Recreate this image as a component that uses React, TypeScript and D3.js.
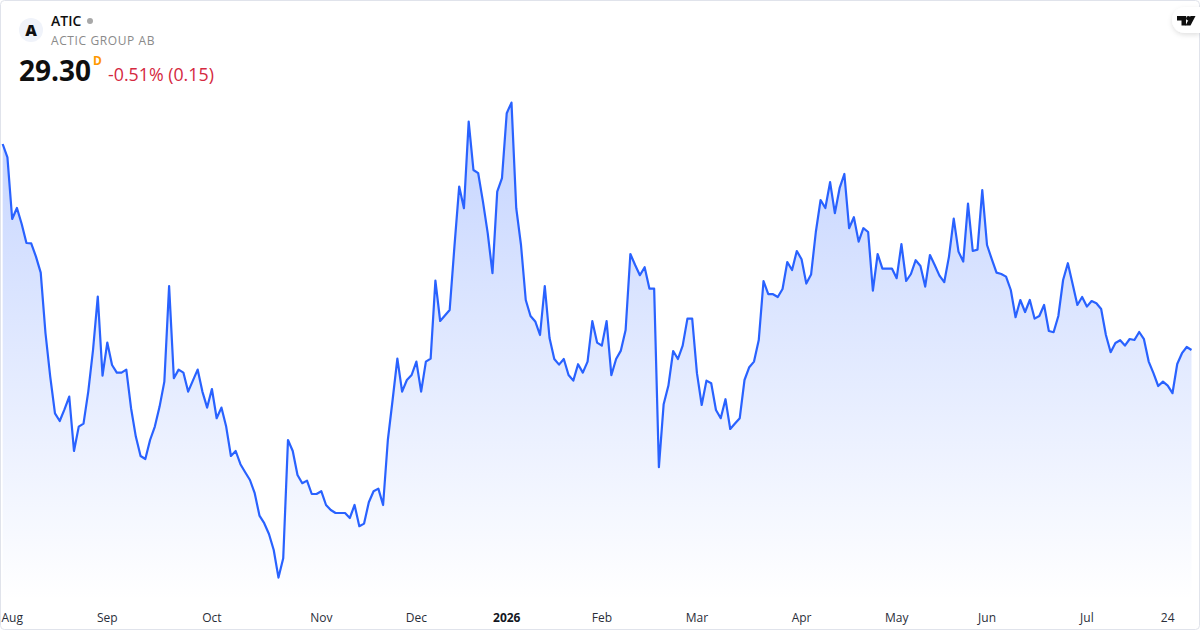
/**
 * ATIC - area chart of the closing price, one year of daily sessions
 */

import { useEffect, useRef } from "react";
import * as d3 from "d3";

// Closing prices, one per session
const closes = [
  39.6, 38.93, 35.85, 36.4, 35.6, 34.65, 34.63, 33.97, 33.17, 30.15,
  27.97, 26.13, 25.75, 26.33, 26.97, 24.25, 25.47, 25.62, 27.22, 29.3,
  31.97, 28.02, 29.67, 28.55, 28.17, 28.17, 28.32, 26.39, 24.97, 24.0,
  23.85, 24.8, 25.47, 26.47, 27.72, 32.5, 27.89, 28.32, 28.17, 27.22,
  27.77, 28.32, 27.22, 26.42, 27.35, 25.89, 26.42, 25.47, 24.0, 24.25,
  23.59, 23.19, 22.8, 22.14, 21.02, 20.64, 20.1, 19.3, 17.92, 18.89,
  24.8, 24.25, 23.05, 22.64, 22.77, 22.1, 22.1, 22.24, 21.55, 21.3,
  21.15, 21.15, 21.15, 20.9, 21.55, 20.49, 20.62, 21.69, 22.24, 22.37,
  21.55, 24.8, 26.8, 28.87, 27.22, 27.8, 28.05, 28.72, 27.22, 28.72,
  28.87, 32.77, 30.75, 31.02, 31.3, 34.47, 37.47, 36.39, 40.72, 38.3,
  38.14, 36.72, 35.14, 33.14, 37.22, 37.89, 41.14, 41.67, 36.39, 34.55,
  31.8, 31.0, 30.73, 30.05, 32.5, 29.9, 28.85, 28.57, 28.85, 28.05,
  27.77, 28.59, 28.17, 28.72, 30.74, 29.67, 29.52, 30.74, 28.04, 28.85,
  29.27, 30.3, 34.1, 33.55, 33.04, 33.44, 32.37, 32.37, 23.44, 26.59,
  27.52, 29.25, 28.85, 29.52, 30.87, 30.87, 28.14, 26.55, 27.77, 27.64,
  26.3, 25.89, 26.84, 25.35, 25.62, 25.89, 27.8, 28.44, 28.72, 29.8,
  32.75, 32.09, 32.09, 31.95, 32.35, 33.7, 33.3, 34.25, 33.84, 32.62,
  33.07, 35.2, 36.8, 36.4, 37.69, 36.14, 37.39, 38.1, 35.39, 35.94,
  34.72, 35.39, 35.2, 32.27, 34.1, 33.37, 33.37, 33.37, 32.89, 34.59,
  32.75, 33.1, 33.79, 33.5, 32.47, 34.05, 33.55, 33.02, 32.69, 33.97,
  35.87, 34.22, 33.72, 36.62, 34.25, 34.32, 37.29, 34.55, 33.84, 33.17,
  33.1, 32.97, 32.3, 30.94, 31.8, 31.2, 31.8, 30.87, 31.0, 31.55,
  30.25, 30.19, 31.0, 32.8, 33.64, 32.6, 31.55, 31.95, 31.47, 31.75,
  31.64, 31.35, 30.05, 29.19, 29.65, 29.79, 29.52, 29.85, 29.8, 30.2,
  29.84, 28.72, 28.14, 27.5, 27.72, 27.52, 27.14, 28.6, 29.14, 29.45,
  29.3,
];

// Axis labels and the session each one falls on
const tickLabels = ["Aug", "Sep", "Oct", "Nov", "Dec", "2026", "Feb", "Mar", "Apr", "May", "Jun", "Jul", "24"];
const tickSessions = [2, 22, 44, 67, 87, 106, 126, 146, 168, 188, 207, 228, 245];
const boldLabels = ["2026"];

const ticker = "ATIC";
const companyName = "ACTIC GROUP AB";
const lastPrice = "29.30";
const interval = "D";
const changeText = "-0.51% (0.15)";

const WIDTH = 1200;
const HEIGHT = 630;
const FONT = "'Open Sans', sans-serif";

export default function App() {
  const axisRef = useRef<SVGGElement>(null);

  const xScale = d3
    .scaleLinear()
    .domain([0, closes.length - 1])
    .range([2.67, 1191.5]);

  const yScale = d3.scaleLinear().domain([16.8, 46.8]).range([600, 0]);

  const linePath = d3
    .line<number>()
    .x((_, i) => xScale(i))
    .y((d) => yScale(d))(closes);

  const areaPath = d3
    .area<number>()
    .x((_, i) => xScale(i))
    .y0(600)
    .y1((d) => yScale(d))(closes);

  useEffect(() => {
    if (!axisRef.current) return;
    const g = d3.select(axisRef.current);
    g.selectAll("*").remove();

    g.call(
      d3
        .axisBottom(xScale)
        .tickValues(tickSessions)
        .tickSize(0)
        .tickPadding(0)
        .offset(0)
        .tickFormat((_, i) => tickLabels[i])
    );
    g.select(".domain").remove();

    g.selectAll<SVGTextElement, number>("text")
      .attr("dy", "0.32em")
      .style("font-family", FONT)
      .style("font-size", "12px")
      .style("fill", (_, i) => (boldLabels.includes(tickLabels[i]) ? "#131722" : "#2a2e39"))
      .style("font-weight", (_, i) => (boldLabels.includes(tickLabels[i]) ? "700" : "400"));
  }, []);

  return (
    <svg
      width={WIDTH}
      height={HEIGHT}
      viewBox={`0 0 ${WIDTH} ${HEIGHT}`}
      style={{ position: "absolute", left: 0, top: 0, display: "block" }}
    >
      <defs>
        <linearGradient id="areaFill" gradientUnits="userSpaceOnUse" x1="0" y1="102" x2="0" y2="600">
          <stop offset="0%" stopColor="#2962ff" stopOpacity={0.28} />
          <stop offset="100%" stopColor="#2962ff" stopOpacity={0} />
        </linearGradient>
        <filter id="badgeShadow" x="-30%" y="-50%" width="160%" height="200%">
          <feDropShadow dx="0" dy="2" stdDeviation="2.5" floodColor="#000" floodOpacity="0.12" />
        </filter>
      </defs>

      <rect x={0} y={0} width={WIDTH} height={HEIGHT} fill="#fff" />

      <path d={areaPath ?? ""} fill="url(#areaFill)" />
      <path d={linePath ?? ""} fill="none" stroke="#2962ff" strokeWidth={2.2} strokeLinejoin="round" />

      <g ref={axisRef} transform="translate(0,618)" />

      {/* Frame */}
      <rect x={0.5} y={0.5} width={WIDTH - 1} height={HEIGHT - 1} rx={4} fill="none" stroke="#e0e3eb" />

      {/* Header */}
      <circle cx={31} cy={30} r={12} fill="#f0f3fa" />
      <text x={31} y={35.5} textAnchor="middle" fontFamily={FONT} fontSize={16} fontWeight={800} fill="#0f0f0f">
        A
      </text>
      <text x={51} y={26} fontFamily={FONT} fontSize={14} fontWeight={600} fill="#0f0f0f">
        {ticker}
      </text>
      <circle cx={90} cy={21} r={3} fill="#a8a8a8" />
      <text x={51} y={45} fontFamily={FONT} fontSize={12} fill="#8a8a8a" letterSpacing={0.6}>
        {companyName}
      </text>
      <text x={19} y={81} fontFamily={FONT} fontSize={28} fontWeight={700} fill="#0f0f0f">
        {lastPrice}
      </text>
      <text x={93} y={65} fontFamily={FONT} fontSize={12} fontWeight={700} fill="#ff9800">
        {interval}
      </text>
      <text x={108} y={81} fontFamily={FONT} fontSize={17.8} fill="#d5293f">
        {changeText}
      </text>

      {/* Logo badge */}
      <path
        d="M1200 7 H1185 A13 13 0 0 0 1172 20 A13 13 0 0 0 1185 33 H1200 Z"
        fill="#fff"
        filter="url(#badgeShadow)"
      />
      <path d="M1177 16 H1186 V25.5 H1181.5 V20.5 H1177 Z" fill="#0f0f0f" />
      <circle cx={1188.3} cy={18.2} r={2.2} fill="#0f0f0f" />
      <path d="M1190.5 16 H1195.5 L1190.5 25.5 H1185.5 Z" fill="#0f0f0f" />
    </svg>
  );
}
